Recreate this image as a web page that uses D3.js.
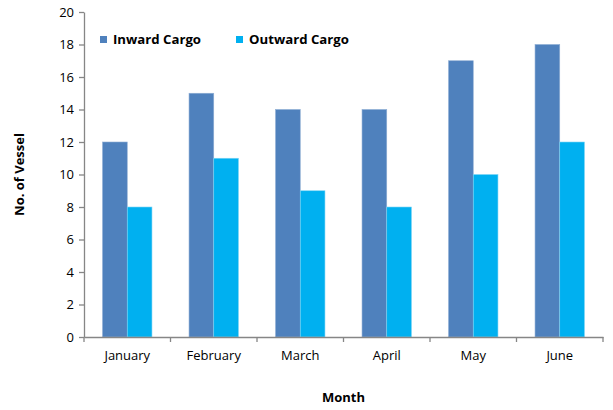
<!DOCTYPE html>
<html>
<head>
<meta charset="utf-8">
<script src="https://cdn.jsdelivr.net/npm/d3@7"></script>
<style>
  body { margin: 0; background: #fff; }
  text { font-family: "Open Sans", sans-serif; fill: #000; }
</style>
</head>
<body>
<div class="svg-container"></div>
<script>
const months = ['January', 'February', 'March', 'April', 'May', 'June'];
const inwardCargo = [12, 15, 14, 14, 17, 18];
const outwardCargo = [8, 11, 9, 8, 10, 12];
const seriesNames = ['Inward Cargo', 'Outward Cargo'];
const yTicks = [0, 2, 4, 6, 8, 10, 12, 14, 16, 18, 20];

// dimensions
const width = 613;
const height = 410;
const margin = { top: 12, right: 10, bottom: 73, left: 84 };
const colors = ['#4f81bd', '#00b0f0'];
const axisColor = '#868686';

const svg = d3.select('.svg-container')
  .append('svg')
  .attr('width', width)
  .attr('height', height);

const x = d3.scaleBand()
  .domain(months)
  .range([margin.left, width - margin.right])
  .paddingInner(0)
  .paddingOuter(0);

const inner = d3.scaleBand()
  .domain(seriesNames)
  .range([0, x.bandwidth()])
  .paddingInner(0)
  .paddingOuter(0.75);

const y = d3.scaleLinear()
  .domain([0, 20])
  .range([height - margin.bottom, margin.top]);

// bars
const rows = months.map((m, i) => ({ month: m, values: [inwardCargo[i], outwardCargo[i]] }));

svg.append('g')
  .selectAll('g')
  .data(rows)
  .enter()
  .append('g')
  .attr('transform', d => `translate(${x(d.month)},0)`)
  .selectAll('rect')
  .data(d => d.values.map((v, i) => ({ name: seriesNames[i], value: v, i })))
  .enter()
  .append('rect')
  .attr('x', d => inner(d.name))
  .attr('y', d => y(d.value))
  .attr('width', inner.bandwidth())
  .attr('height', d => y(0) - y(d.value))
  .style('fill', d => colors[d.i])
  .attr('stroke', d => d.i === 0 ? '#8eadd4' : '#7fd5f5')
  .attr('stroke-width', 0.6);

// y axis
const yAxis = svg.append('g')
  .attr('transform', `translate(${margin.left},0)`)
  .call(d3.axisLeft(y).tickValues(yTicks).tickSize(5).tickPadding(5).tickSizeOuter(0));

// x axis
const xAxis = svg.append('g')
  .attr('transform', `translate(0,${y(0)})`)
  .call(d3.axisBottom(x).tickSize(0).tickPadding(14));

// category boundary ticks
svg.append('g')
  .selectAll('line')
  .data(months.concat(['end']))
  .enter()
  .append('line')
  .attr('x1', (d, i) => i < months.length ? x(d) : x.range()[1])
  .attr('x2', (d, i) => i < months.length ? x(d) : x.range()[1])
  .attr('y1', y(0))
  .attr('y2', y(0) + 5)
  .attr('stroke', axisColor)
  .attr('stroke-width', 1.3);

[yAxis, xAxis].forEach(a => {
  a.select('.domain').attr('stroke', axisColor).attr('stroke-width', 1.3);
  a.selectAll('.tick line').attr('stroke', axisColor).attr('stroke-width', 1.3);
  a.selectAll('.tick text')
    .style('font-family', '"Open Sans", sans-serif')
    .style('font-size', '13px')
    .attr('fill', '#000');
});

// axis titles
svg.append('text')
  .attr('transform', `translate(24,${(y(0) + y(20)) / 2}) rotate(-90)`)
  .attr('text-anchor', 'middle')
  .style('font-size', '13px')
  .style('font-weight', 'bold')
  .text('No. of Vessel');

svg.append('text')
  .attr('x', (x.range()[0] + x.range()[1]) / 2)
  .attr('y', 402)
  .attr('text-anchor', 'middle')
  .style('font-size', '13px')
  .style('font-weight', 'bold')
  .text('Month');

// legend
const legendX = [100, 236];
const legend = svg.append('g')
  .selectAll('g')
  .data(seriesNames)
  .enter()
  .append('g')
  .attr('transform', (d, i) => `translate(${legendX[i]},36)`);

legend.append('rect')
  .attr('width', 7)
  .attr('height', 7)
  .style('fill', (d, i) => colors[i]);

legend.append('text')
  .attr('x', 13)
  .attr('y', 7.5)
  .style('font-size', '13.2px')
  .style('font-weight', 'bold')
  .text(d => d);
</script>
</body>
</html>
